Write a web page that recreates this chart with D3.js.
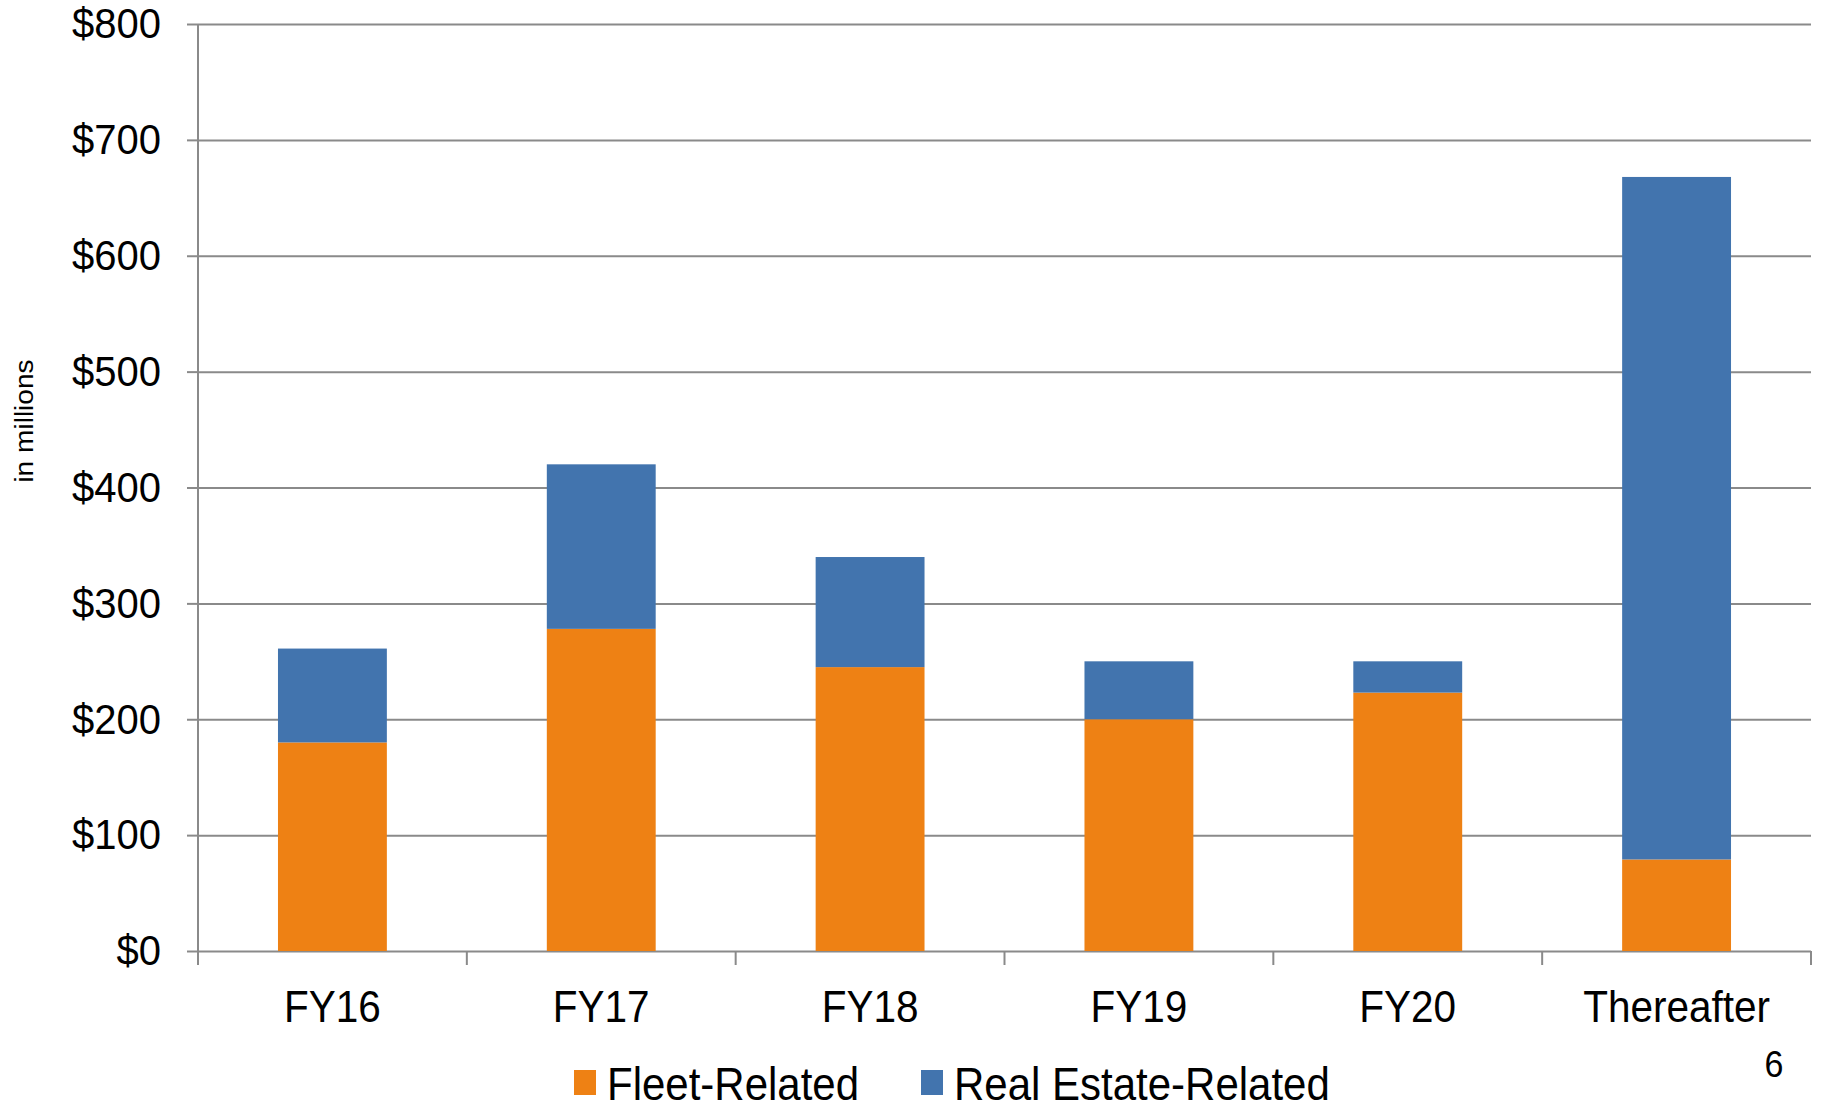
<!DOCTYPE html>
<meta charset="utf-8">
<style>
body { margin: 0; background: #fff; }
text { font-family: "Liberation Sans", Arial, sans-serif; fill: #000; }
.grid line { stroke: #8a8a8a; stroke-width: 2; }
.grid path { display: none; }
</style>
<body>
<script src="https://d3js.org/d3.v7.min.js"></script>
<script>

// chart data
var categories = ["FY16", "FY17", "FY18", "FY19", "FY20", "Thereafter"];
var fleetRelated = [180, 278, 245, 200, 223, 79];
var realEstateRelated = [81, 142, 95, 50, 27, 589];
var yTicks = [0, 100, 200, 300, 400, 500, 600, 700, 800];
var seriesNames = ["Fleet-Related", "Real Estate-Related"];
var seriesColors = ["#ee8114", "#4274ae"];

// dimensions
var W = 1823, H = 1104;
var margin = {top: 24, right: 12, bottom: 153, left: 198},
    width = W - margin.left - margin.right,
    height = H - margin.top - margin.bottom;

var svg = d3.select("body").append("svg")
    .attr("width", W)
    .attr("height", H)
  .append("g")
    .attr("transform", "translate(" + margin.left + "," + margin.top + ")");

// scales
var xSlot = d3.scaleBand().domain(categories).range([0, width]).padding(0);
var x = d3.scaleBand().domain(categories).range([0, width])
    .paddingInner(0.595).paddingOuter(0.2975);
var y = d3.scaleLinear().domain([0, 800]).range([height, 0]);

// gridlines
svg.append("g")
    .attr("class", "grid")
    .call(d3.axisLeft(y).tickValues(yTicks).tickSize(-width).tickFormat(""));

// stacked bars
var rows = categories.map(function(c, i) {
  return {cat: c, "Fleet-Related": fleetRelated[i], "Real Estate-Related": realEstateRelated[i]};
});
var stacked = d3.stack().keys(seriesNames)(rows);

svg.selectAll(".series")
    .data(stacked)
  .enter().append("g")
    .attr("class", "series")
    .attr("fill", function(d, i) { return seriesColors[i]; })
  .selectAll("rect")
    .data(function(d) { return d; })
  .enter().append("rect")
    .attr("x", function(d) { return x(d.data.cat); })
    .attr("width", x.bandwidth())
    .attr("y", function(d) { return y(d[1]); })
    .attr("height", function(d) { return y(d[0]) - y(d[1]); });

// y axis
var yAxis = svg.append("g")
    .call(d3.axisLeft(y).tickValues(yTicks).tickSize(11).tickPadding(26)
      .tickFormat(function(d) { return "$" + d; }));
yAxis.select(".domain").remove();
yAxis.selectAll("line").attr("stroke", "#8a8a8a").attr("stroke-width", 2);
yAxis.selectAll("text")
    .style("font-size", "40px")
    .attr("transform", "scale(1,1.08)");

svg.append("line")
    .attr("x1", 0).attr("x2", 0)
    .attr("y1", y(800)).attr("y2", height + 14)
    .attr("stroke", "#8a8a8a").attr("stroke-width", 2);

// x axis labels
var xAxis = svg.append("g")
    .attr("transform", "translate(0," + height + ")")
    .call(d3.axisBottom(x).tickSize(0));
xAxis.select(".domain").remove();
xAxis.selectAll("text")
    .style("font-size", "40.5px")
    .attr("y", 0).attr("dy", 0)
    .attr("transform", "translate(0,71) scale(1,1.08)");

// x axis boundary ticks
var bounds = categories.map(function(c) { return xSlot(c); }).concat([width]);
svg.append("g").selectAll("line")
    .data(bounds)
  .enter().append("line")
    .attr("x1", function(d) { return d; })
    .attr("x2", function(d) { return d; })
    .attr("y1", height).attr("y2", height + 14)
    .attr("stroke", "#8a8a8a").attr("stroke-width", 2);

// y axis title
svg.append("text")
    .attr("transform", "translate(" + (33 - margin.left) + "," + (421 - margin.top) + ") rotate(-90) scale(1.08,1)")
    .attr("text-anchor", "middle")
    .style("font-size", "26px")
    .text("in millions");

// legend
var legendX = [574, 921];
var legend = svg.append("g")
    .attr("transform", "translate(" + (-margin.left) + "," + (-margin.top) + ")");
seriesNames.forEach(function(name, i) {
  legend.append("rect")
      .attr("x", legendX[i]).attr("y", 1070)
      .attr("width", 22).attr("height", 25)
      .attr("fill", seriesColors[i]);
  legend.append("text")
      .attr("transform", "translate(" + (legendX[i] + 33) + ",1100) scale(1,1.08)")
      .style("font-size", "42px")
      .text(name);
});

// page number
legend.append("text")
    .attr("transform", "translate(1774,1077) scale(1,1.08)")
    .attr("text-anchor", "middle")
    .style("font-size", "34px")
    .text("6");

</script>
</body>
